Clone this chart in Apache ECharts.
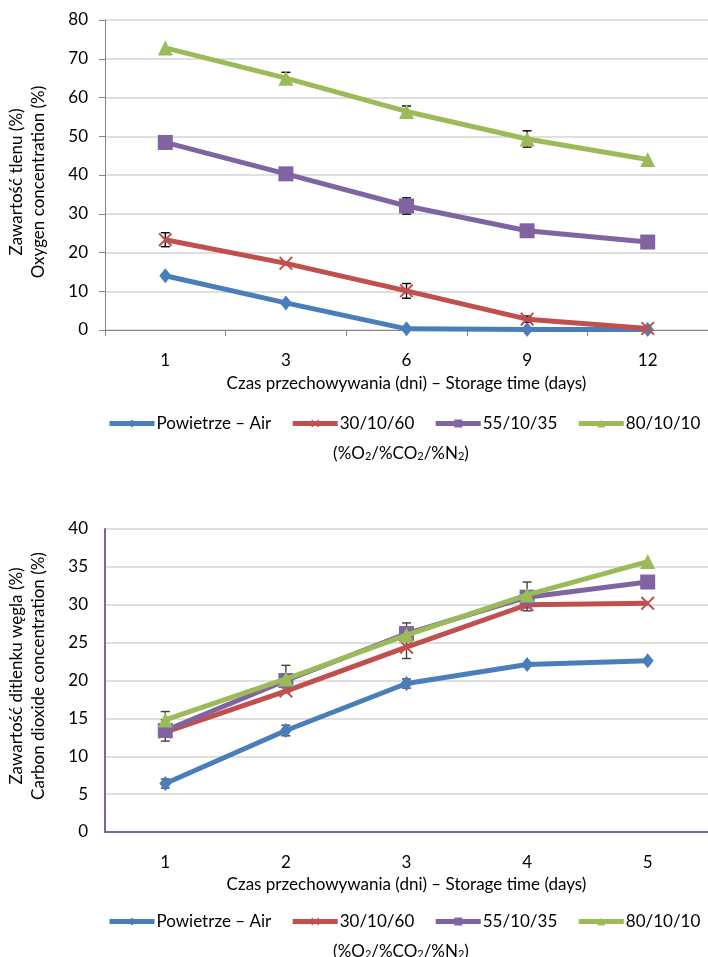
<!DOCTYPE html>
<html>
<head>
<meta charset="utf-8">
<script src="https://cdn.jsdelivr.net/npm/echarts@6/dist/echarts.min.js"></script>
<style>
  html, body { margin: 0; padding: 0; background: #fff; }
  #chart { width: 708px; height: 957px; }
</style>
</head>
<body>
<div id="chart"></div>
<script>
// Storage days for each panel
const daysO2 = ['1', '3', '6', '9', '12'];
const daysCO2 = ['1', '2', '3', '4', '5'];
const seriesNames = ['Powietrze – Air', '30/10/60', '55/10/35', '80/10/10'];

// Oxygen concentration (%)
const o2Air = [14.0, 7.0, 0.3, 0.1, 0.1];
const o2Mix30 = [23.3, 17.2, 10.1, 2.8, 0.4];
const o2Mix55 = [48.4, 40.3, 32.0, 25.6, 22.7];
const o2Mix80 = [72.8, 65.0, 56.4, 49.3, 44.0];
// Standard deviation of the oxygen readings
const o2ErrAir = [0, 0, 0, 0, 0];
const o2Err30 = [1.8, 0, 1.9, 0.8, 0];
const o2Err55 = [0, 0, 2.1, 0, 0];
const o2Err80 = [0, 1.5, 1.4, 2.1, 0];

// Carbon dioxide concentration (%)
const co2Air = [6.4, 13.4, 19.6, 22.1, 22.6];
const co2Mix30 = [13.2, 18.6, 24.4, 30.0, 30.2];
const co2Mix55 = [13.4, 20.0, 26.2, 31.0, 33.0];
const co2Mix80 = [14.8, 20.2, 26.0, 31.3, 35.7];
// Standard deviation of the carbon dioxide readings
const co2ErrAir = [0.6, 0.7, 0.6, 0, 0];
const co2Err30 = [0, 0, 1.5, 0.8, 0];
const co2Err55 = [1.4, 0, 0, 0, 0];
const co2Err80 = [1.1, 1.8, 1.6, 1.7, 0];

// Y-axis ticks
const o2Ticks = { min: 0, max: 80, interval: 10 };
const co2Ticks = { min: 0, max: 40, interval: 5 };

const FONT = 'Lato';
const colors = ['#4a7ebb', '#c0504d', '#8064a2', '#9bbb59'];
const crossSymbol = 'path://M0,1 L1,0 L5,4 L9,0 L10,1 L6,5 L10,9 L9,10 L5,6 L1,10 L0,9 L4,5 Z';
const symbols = ['diamond', crossSymbol, 'rect', 'triangle'];
const symbolSizes = [[12, 15], 14, 15, 15];

function lineSeries(idx, gridIdx, values) {
  return {
    name: seriesNames[idx],
    type: 'line',
    xAxisIndex: gridIdx,
    yAxisIndex: gridIdx,
    data: values,
    symbol: symbols[idx],
    symbolSize: symbolSizes[idx],
    showAllSymbol: true,
    lineStyle: { color: colors[idx], width: 5 },
    itemStyle: { color: colors[idx] },
    emphasis: { disabled: true },
    z: 2 + idx,
    animation: false
  };
}

function errorSeries(gridIdx, valueSets, errSets, color) {
  const data = [];
  valueSets.forEach((vals, s) => {
    vals.forEach((v, i) => {
      if (errSets[s][i] > 0) data.push([i, v, errSets[s][i]]);
    });
  });
  return {
    type: 'custom',
    xAxisIndex: gridIdx,
    yAxisIndex: gridIdx,
    data: data,
    z: 1,
    silent: true,
    animation: false,
    renderItem: function (params, api) {
      const x = api.value(0), v = api.value(1), e = api.value(2);
      const hi = api.coord([x, v + e]);
      const lo = api.coord([x, v - e]);
      const cap = 4.5;
      const st = { stroke: color, lineWidth: 1.4 };
      return {
        type: 'group',
        children: [
          { type: 'line', shape: { x1: hi[0], y1: hi[1], x2: lo[0], y2: lo[1] }, style: st },
          { type: 'line', shape: { x1: hi[0] - cap, y1: hi[1], x2: hi[0] + cap, y2: hi[1] }, style: st },
          { type: 'line', shape: { x1: lo[0] - cap, y1: lo[1], x2: lo[0] + cap, y2: lo[1] }, style: st }
        ]
      };
    }
  };
}

const labelText = { color: '#000', fontFamily: FONT, fontSize: 17 };

function subscriptLabel(x, y) {
  return {
    type: 'text',
    x: x, y: y,
    style: {
      text: '{n|(%O}{s|2}{n|/%CO}{s|2}{n|/%N}{s|2}{n|)}',
      align: 'center', verticalAlign: 'middle',
      rich: {
        n: { fontFamily: FONT, fontSize: 17, color: '#000', lineHeight: 22, verticalAlign: 'bottom' },
        s: { fontFamily: FONT, fontSize: 11, color: '#000', lineHeight: 22, verticalAlign: 'bottom', padding: [13, 0, 0, 0] }
      }
    }
  };
}

function yTitle(x, y, lines) {
  return {
    type: 'text',
    x: x, y: y,
    rotation: Math.PI / 2,
    style: {
      text: lines.join('\n'),
      align: 'center', verticalAlign: 'middle',
      fontFamily: FONT, fontSize: 17, lineHeight: 22, fill: '#000'
    }
  };
}

const legendBase = {
  data: seriesNames,
  left: 107,
  width: 640,
  padding: 0,
  itemWidth: 45,
  itemHeight: 10,
  itemGap: 19,
  lineStyle: { width: 5 },
  textStyle: { fontFamily: FONT, fontSize: 17, color: '#000', padding: [0, 0, 0, -3] },
  selectedMode: false
};

const option = {
  backgroundColor: '#fff',
  animation: false,
  grid: [
    { left: 105, right: 0, top: 20, height: 310 },
    { left: 105, right: 0, top: 529, height: 303 }
  ],
  legend: [
    Object.assign({}, legendBase, { top: 415 }),
    Object.assign({}, legendBase, { top: 913 })
  ],
  xAxis: [
    {
      gridIndex: 0, type: 'category', data: daysO2, boundaryGap: true,
      axisLine: { lineStyle: { color: '#868686', width: 1 } },
      axisTick: { show: true, length: 6, lineStyle: { color: '#868686' } },
      axisLabel: Object.assign({ margin: 22 }, labelText),
      name: 'Czas przechowywania (dni) – Storage time (days)',
      nameLocation: 'middle', nameGap: 45,
      nameTextStyle: labelText
    },
    {
      gridIndex: 1, type: 'category', data: daysCO2, boundaryGap: true,
      axisLine: { lineStyle: { color: '#8064a2', width: 2 } },
      axisTick: { show: false },
      axisLabel: Object.assign({ margin: 22 }, labelText),
      name: 'Czas przechowywania (dni) – Storage time (days)',
      nameLocation: 'middle', nameGap: 44,
      nameTextStyle: labelText
    }
  ],
  yAxis: [
    {
      gridIndex: 0, type: 'value', min: o2Ticks.min, max: o2Ticks.max, interval: o2Ticks.interval,
      axisLine: { show: true, lineStyle: { color: '#868686', width: 1 } },
      axisTick: { show: true, length: 6, lineStyle: { color: '#868686' } },
      axisLabel: Object.assign({ margin: 17 }, labelText),
      splitLine: { lineStyle: { color: '#d4d4d4', width: 1.5 } }
    },
    {
      gridIndex: 1, type: 'value', min: co2Ticks.min, max: co2Ticks.max, interval: co2Ticks.interval,
      axisLine: { show: true, lineStyle: { color: '#8064a2', width: 2 } },
      axisTick: { show: false },
      axisLabel: Object.assign({ margin: 17 }, labelText),
      splitLine: { lineStyle: { color: '#d4d4d4', width: 1.5 } }
    }
  ],
  graphic: [
    yTitle(28, 182, ['Zawartość tlenu (%)', 'Oxygen concentration (%)']),
    yTitle(28, 676, ['Zawartość ditlenku węgla (%)', 'Carbon dioxide concentration (%)']),
    subscriptLabel(401, 451),
    subscriptLabel(401, 949)
  ],
  series: [
    lineSeries(0, 0, o2Air),
    lineSeries(1, 0, o2Mix30),
    lineSeries(2, 0, o2Mix55),
    lineSeries(3, 0, o2Mix80),
    errorSeries(0, [o2Air, o2Mix30, o2Mix55, o2Mix80], [o2ErrAir, o2Err30, o2Err55, o2Err80], '#000'),
    lineSeries(0, 1, co2Air),
    lineSeries(1, 1, co2Mix30),
    lineSeries(2, 1, co2Mix55),
    lineSeries(3, 1, co2Mix80),
    errorSeries(1, [co2Air, co2Mix30, co2Mix55, co2Mix80], [co2ErrAir, co2Err30, co2Err55, co2Err80], '#404040')
  ]
};

const chart = echarts.init(document.getElementById('chart'), null, { renderer: 'canvas' });
chart.setOption(option);
</script>
</body>
</html>
